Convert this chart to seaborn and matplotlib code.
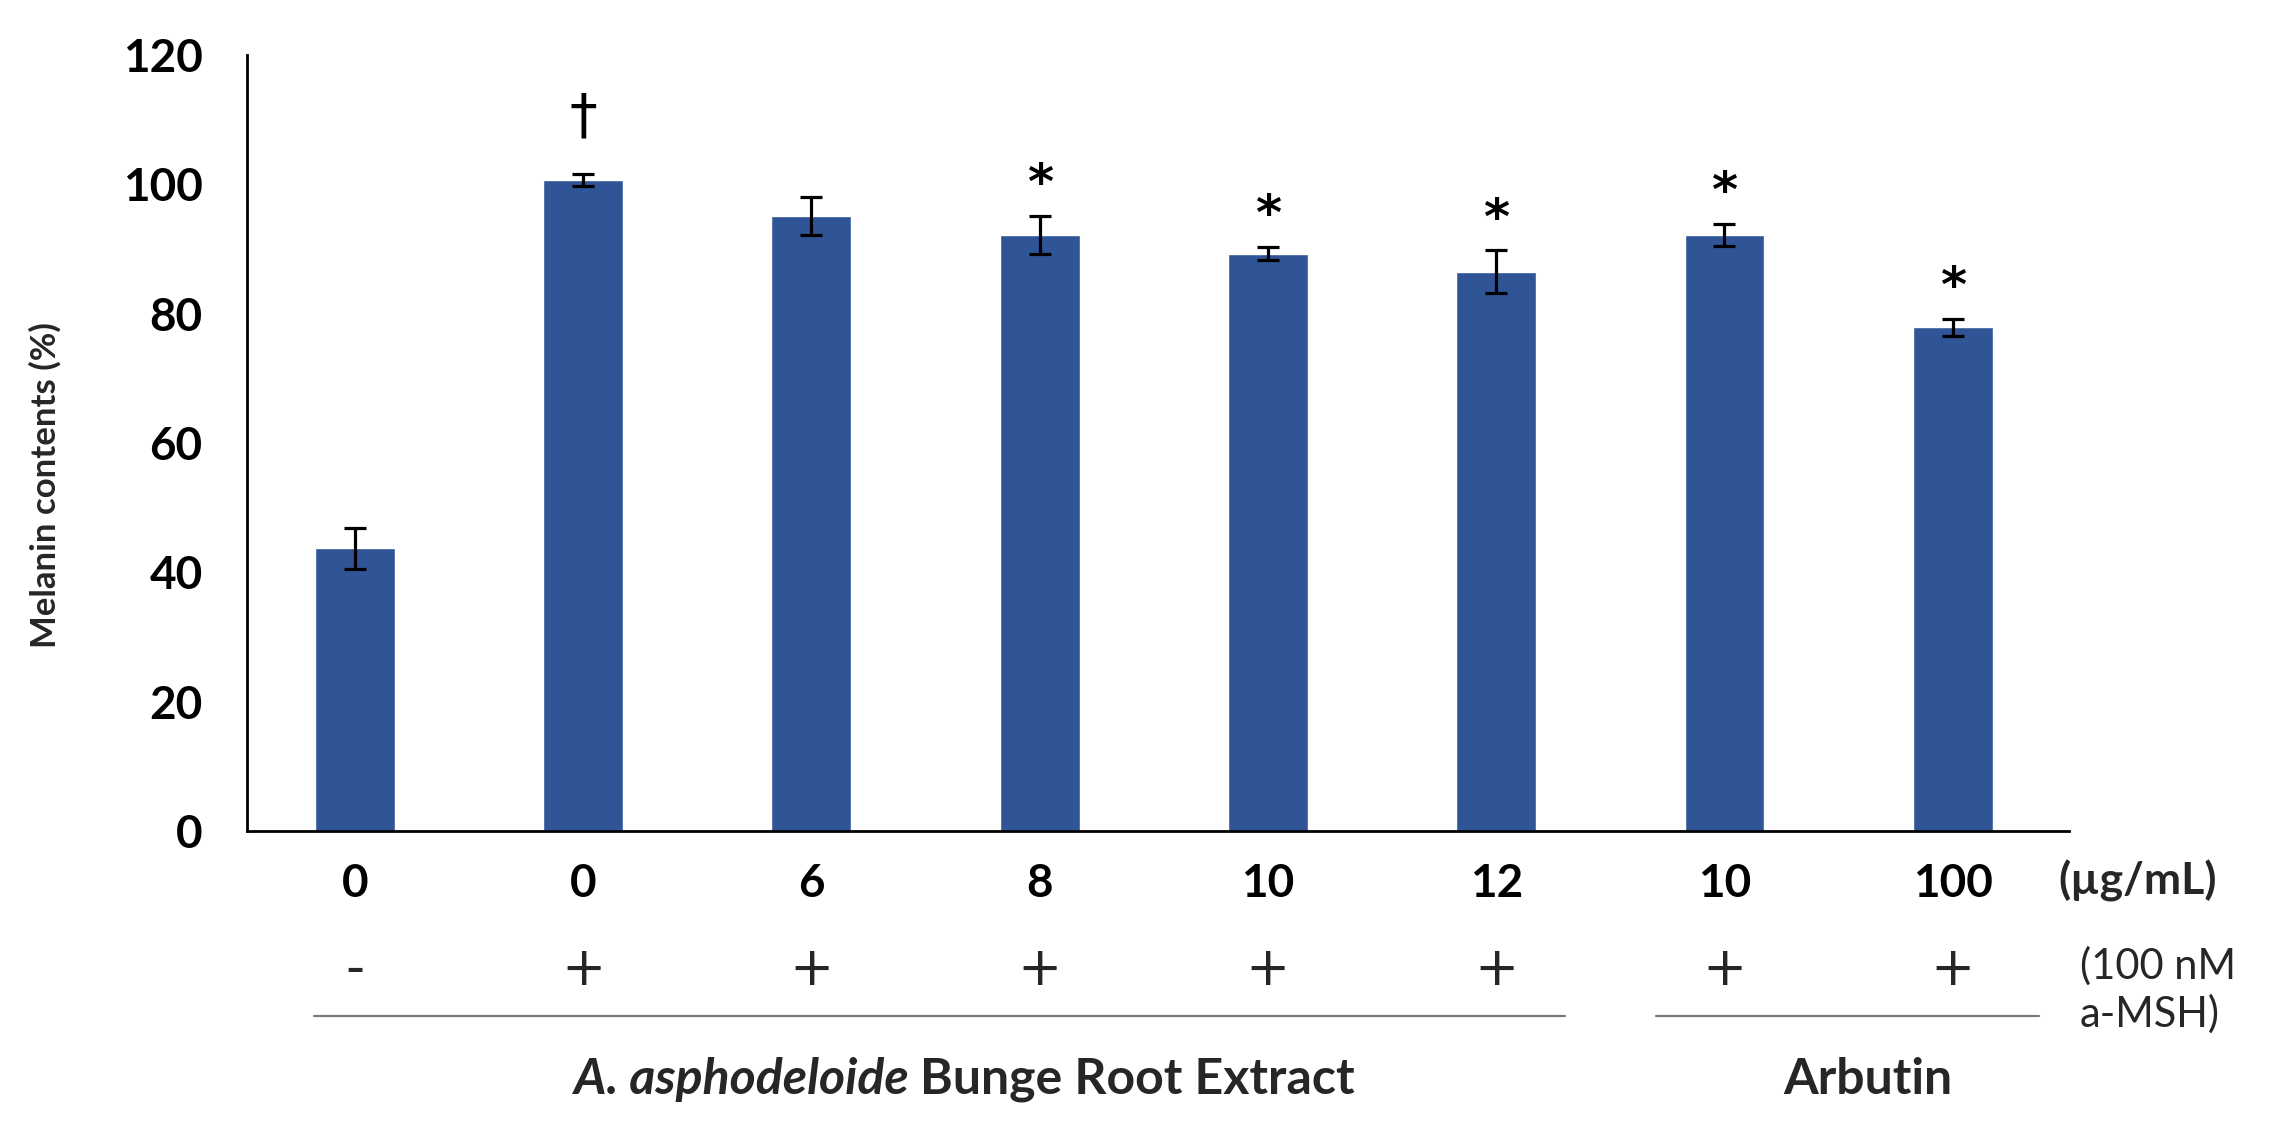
import numpy as np
import pandas as pd
import matplotlib
matplotlib.use("Agg")
import matplotlib.pyplot as plt
import matplotlib.transforms as mtransforms
import seaborn as sns

# ---------------- data ----------------
groups = ["ctrl", "msh", "ext6", "ext8", "ext10", "ext12", "arb10", "arb100"]
conc_labels = ["0", "0", "6", "8", "10", "12", "10", "100"]
msh_labels = ["-", "+", "+", "+", "+", "+", "+", "+"]
melanin = [43.7, 100.7, 95.1, 92.2, 89.3, 86.5, 92.2, 77.9]
sem = [3.2, 0.9, 2.9, 2.9, 1.0, 3.3, 1.7, 1.3]
marks = ["", "\u2020", "", "*", "*", "*", "*", "*"]
extract_italic = "A. asphodeloide"
extract_rest = "Bunge Root Extract"
arbutin_label = "Arbutin"
unit_label = "(\u00b5g/mL)"
msh_note = "(100 nM\na-MSH)"
y_label = "Melanin contents (%)"
y_ticks = [0, 20, 40, 60, 80, 100, 120]

df = pd.DataFrame({"group": groups, "melanin": melanin})

# ---------------- style ----------------
sns.set_style("white")
plt.rcParams["font.family"] = ["Lato", "DejaVu Sans"]
BAR = "#2F5597"

W, H = 2270, 1128
fig = plt.figure(figsize=(W / 100, H / 100), dpi=100)
ax = fig.add_axes([0.1088, 0.2633, 0.8027, 0.6879])

sns.barplot(data=df, x="group", y="melanin", order=groups, color=BAR,
            saturation=1, width=0.35, errorbar=None, ax=ax)
ax.errorbar(np.arange(len(groups)), melanin, yerr=sem, fmt="none",
            ecolor="black", elinewidth=2.3, capsize=8, capthick=2.3, zorder=5)

ax.set_xlim(-0.473, 7.51)
ax.set_ylim(0, 120)
ax.set_yticks(y_ticks)
ax.set_yticklabels([str(t) for t in y_ticks], fontsize=33, fontweight="bold")
ax.set_xticks(np.arange(len(groups)))
ax.set_xticklabels(conc_labels, fontsize=33, fontweight="bold")
ax.tick_params(axis="y", direction="in", length=15, width=1.8, pad=32, colors="black")
ax.tick_params(axis="x", length=0, pad=23, colors="black")
ax.set_xlabel("")
ax.set_ylabel("")
for s in ["top", "right"]:
    ax.spines[s].set_visible(False)
for s in ["left", "bottom"]:
    ax.spines[s].set_linewidth(2)
    ax.spines[s].set_color("black")

# significance marks
for i, (v, e, m) in enumerate(zip(melanin, sem, marks)):
    if not m:
        continue
    if m == "*":
        ax.text(i, v + e + 2.6, m, ha="center", va="baseline", fontsize=36,
                fontweight="bold", color="black", family=["DejaVu Sans"])
    else:
        ax.text(i, v + e + 6.4, m, ha="center", va="baseline", fontsize=40,
                color="black", family=["DejaVu Sans"])

# y label
fig.text(0.0198, 0.570, y_label, rotation=90, ha="center", va="center",
         fontsize=25, fontweight="bold")

bt = mtransforms.blended_transform_factory(ax.transData, fig.transFigure)

# unit label at right of tick row
fig.text(2058 / W, 1 - 881 / H, unit_label, ha="left", va="center",
         fontsize=32, fontweight="bold")

# +/- row
for i, s in enumerate(msh_labels):
    ax.text(i, 1 - 970 / H, s, transform=bt, ha="center", va="center",
            fontsize=38, clip_on=False, family=["DejaVu Sans"])
fig.text(2080 / W, 1 - 990 / H, msh_note, ha="left", va="center",
         fontsize=30, linespacing=1.25)

# group lines
ax.plot([-0.18, 5.30], [1 - 1016 / H] * 2, transform=bt, color="#7a7a7a",
        lw=1.6, clip_on=False)
ax.plot([5.70, 7.38], [1 - 1016 / H] * 2, transform=bt, color="#7a7a7a",
        lw=1.6, clip_on=False)

# group labels
yl = 1 - 1080 / H
fig.canvas.draw()
r = fig.canvas.get_renderer()
t1 = fig.text(0, yl, extract_italic, fontsize=36, fontweight="bold",
              fontstyle="italic", ha="left", va="center")
t2 = fig.text(0, yl, extract_rest, fontsize=36, fontweight="bold",
              ha="left", va="center")
w1 = t1.get_window_extent(r).width
w2 = t2.get_window_extent(r).width
gap = 12
cx = ax.transData.transform((2.67, 0))[0]
x0 = cx - (w1 + gap + w2) / 2
t1.set_x(x0 / W)
t2.set_x((x0 + w1 + gap) / W)
ax.text(6.63, yl, arbutin_label, transform=bt, ha="center", va="center",
        fontsize=36, fontweight="bold", clip_on=False)

fig.savefig("out.png", dpi=100, facecolor="white")
